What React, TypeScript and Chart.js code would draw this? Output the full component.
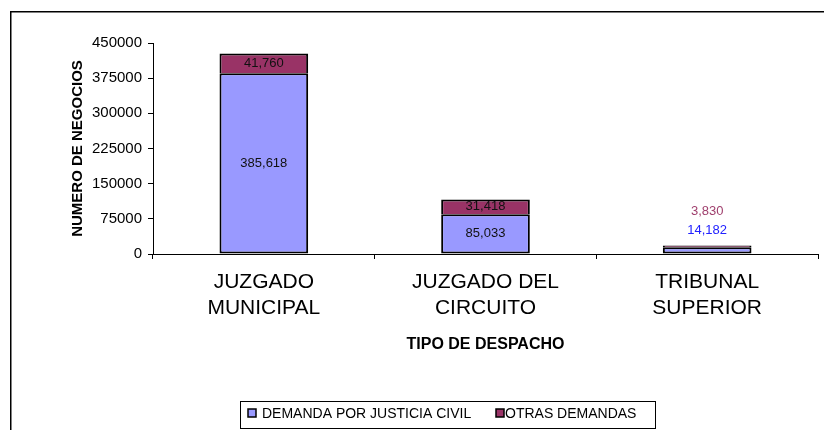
import React, { useEffect, useRef } from 'react';
import { Chart, registerables } from 'chart.js';

Chart.register(...registerables);

const categories = [['JUZGADO', 'MUNICIPAL'], ['JUZGADO DEL', 'CIRCUITO'], ['TRIBUNAL', 'SUPERIOR']];
const civilValues = [385618, 85033, 14182];
const otrasValues = [41760, 31418, 3830];
const seriesNames = ['DEMANDA POR JUSTICIA CIVIL', 'OTRAS DEMANDAS'];
const seriesColors = ['#9999FF', '#993366'];
const outsideLabelColors = ['#2222FF', '#A0406E'];
const yMin = 0;
const yMax = 450000;
const yStep = 75000;
const yTitle = 'NUMERO DE NEGOCIOS';
const xTitle = 'TIPO DE DESPACHO';

const FONT = '"Liberation Sans", Arial, Helvetica, sans-serif';

const fmt = (v: number) => v.toLocaleString('en-US');

const framePlugin = {
  id: 'frame',
  afterDraw(chart: any) {
    const ctx = chart.ctx;
    ctx.save();
    ctx.strokeStyle = '#000';
    ctx.lineWidth = 1.5;
    ctx.strokeRect(10.75, 11.75, 900, 900);
    ctx.restore();
  },
};

const labelsPlugin = {
  id: 'barLabels',
  afterDatasetsDraw(chart: any) {
    const ctx = chart.ctx;
    ctx.save();
    ctx.font = `13px ${FONT}`;
    ctx.textAlign = 'center';
    ctx.textBaseline = 'middle';
    const n = chart.data.labels.length;
    for (let i = 0; i < n; i++) {
      const metas = chart.data.datasets.map((_: any, d: number) => chart.getDatasetMeta(d).data[i]);
      const small = metas.some((el: any) => Math.abs(el.base - el.y) < 10);
      const stackTop = Math.min(...metas.map((el: any) => Math.min(el.y, el.base)));
      metas.forEach((el: any, d: number) => {
        const value = chart.data.datasets[d].data[i];
        if (small) {
          ctx.fillStyle = outsideLabelColors[d];
          ctx.fillText(fmt(value), el.x, stackTop - 15 - d * 19);
        } else {
          ctx.fillStyle = '#111';
          ctx.fillText(fmt(value), el.x, (el.y + el.base) / 2);
        }
      });
    }
    ctx.restore();
  },
};

const legendPlugin = {
  id: 'boxLegend',
  afterDraw(chart: any) {
    const ctx = chart.ctx;
    ctx.save();
    ctx.strokeStyle = '#000';
    ctx.lineWidth = 1;
    ctx.strokeRect(240.5, 401.5, 415, 27);
    ctx.font = `14px ${FONT}`;
    ctx.textBaseline = 'middle';
    ctx.textAlign = 'left';
    const items = [
      { sx: 248, tx: 262 },
      { sx: 496, tx: 505 },
    ];
    items.forEach((it, d) => {
      ctx.fillStyle = seriesColors[d];
      ctx.fillRect(it.sx, 409, 8, 8);
      ctx.strokeStyle = '#000';
      ctx.lineWidth = 1.5;
      ctx.strokeRect(it.sx, 409, 8, 8);
      ctx.fillStyle = '#000';
      ctx.fillText(seriesNames[d], it.tx, 414);
    });
    ctx.restore();
  },
};

export default function App() {
  const ref = useRef<HTMLCanvasElement | null>(null);
  useEffect(() => {
    document.body.style.margin = '0';
    const canvas = ref.current;
    if (!canvas) return;
    const chart = new Chart(canvas, {
      type: 'bar',
      data: {
        labels: categories as any,
        datasets: [
          {
            label: seriesNames[0],
            data: civilValues,
            backgroundColor: seriesColors[0],
            borderColor: '#000',
            borderWidth: 2,
            borderSkipped: false,
            categoryPercentage: 0.4,
            barPercentage: 1,
          },
          {
            label: seriesNames[1],
            data: otrasValues,
            backgroundColor: seriesColors[1],
            borderColor: '#000',
            borderWidth: 2,
            borderSkipped: 'start',
            categoryPercentage: 0.4,
            barPercentage: 1,
          },
        ],
      },
      options: {
        responsive: false,
        animation: false,
        events: [],
        layout: { padding: { top: 43, left: 0, right: 6, bottom: 76 } },
        plugins: {
          legend: { display: false },
          tooltip: { enabled: false },
        },
        scales: {
          x: {
            stacked: true,
            grid: { display: true, drawOnChartArea: false, drawTicks: true, tickLength: 5, color: '#000', offset: true },
            border: { display: true, color: '#000', width: 1 },
            ticks: {
              color: '#000',
              font: { family: FONT, size: 21, lineHeight: 1.25 },
              padding: 10,
              maxRotation: 0,
              autoSkip: false,
            },
            title: {
              display: true,
              text: xTitle,
              color: '#000',
              font: { family: FONT, size: 16, weight: 'bold', lineHeight: 1.2 },
              padding: { top: 0, bottom: 0 },
            },
            afterFit(scale: any) {
              scale.height = 100;
            },
          },
          y: {
            stacked: true,
            min: yMin,
            max: yMax,
            grid: { display: true, drawOnChartArea: false, drawTicks: true, tickLength: 5, color: '#000' },
            border: { display: true, color: '#000', width: 1 },
            ticks: {
              stepSize: yStep,
              color: '#000',
              font: { family: FONT, size: 15 },
              padding: 6,
              callback: (v: any) => String(v),
            },
            title: {
              display: true,
              text: yTitle,
              color: '#000',
              font: { family: FONT, size: 15, weight: 'bold', lineHeight: 1.2 },
              padding: { top: 69, bottom: 0 },
            },
            afterFit(scale: any) {
              scale.width = 153;
            },
          },
        },
      },
      plugins: [labelsPlugin, legendPlugin, framePlugin],
    });
    return () => chart.destroy();
  }, []);
  return (
    <div style={{ width: 824, height: 430 }}>
      <canvas ref={ref} width={824} height={430} style={{ display: 'block' }} />
    </div>
  );
}
